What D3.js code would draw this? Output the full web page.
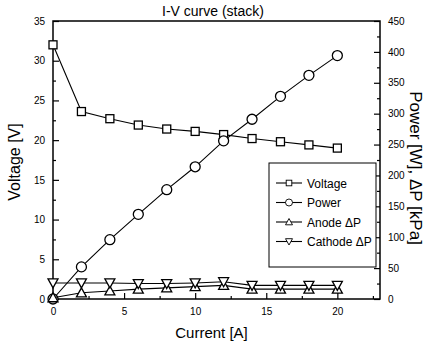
<!DOCTYPE html>
<html>
<head>
<meta charset="utf-8">
<script src="https://cdn.jsdelivr.net/npm/d3@7"></script>
<style>
  body { margin: 0; background: #fff; }
  svg { font-family: "Liberation Sans", Arial, sans-serif; }
</style>
</head>
<body>
<svg></svg>
<script>
var width = 426,
    height = 350;

// data
var current = [0, 2, 4, 6, 8, 10, 12, 14, 16, 18, 20];
var voltage = [32, 23.6, 22.7, 21.9, 21.4, 21.1, 20.7, 20.2, 19.8, 19.4, 19.0];
var power = [0, 52, 96, 137, 177, 214, 256, 291, 328, 362, 394];
var anodeDP = [2, 10, 13, 16, 18, 20, 22, 16, 16, 16, 16];
var cathodeDP = [26, 26, 26, 25, 25, 26, 28, 22, 22, 22, 22];
var seriesNames = ["Voltage", "Power", "Anode \u0394P", "Cathode \u0394P"];

var margin = {left: 53, right: 46, top: 21, bottom: 51};

var svg = d3.select("svg")
    .attr("width", width)
    .attr("height", height);

var x = d3.scaleLinear().domain([0, 23]).range([margin.left, width - margin.right]);
var yL = d3.scaleLinear().domain([0, 35]).range([height - margin.bottom, margin.top]);
var yR = d3.scaleLinear().domain([0, 450]).range([height - margin.bottom, margin.top]);

var g = svg.append("g");

// frame
g.append("rect")
    .attr("x", margin.left)
    .attr("y", margin.top)
    .attr("width", width - margin.left - margin.right)
    .attr("height", height - margin.top - margin.bottom)
    .attr("fill", "none")
    .attr("stroke", "#000")
    .attr("stroke-width", 1.5);

// axes, ticks pointing inwards
function styleAxis(sel) {
    sel.select(".domain").remove();
    sel.selectAll("line").attr("stroke", "#000").attr("stroke-width", 1.2);
    sel.selectAll("text").attr("font-size", 10).attr("fill", "#000");
}

g.append("g")
    .attr("transform", "translate(0," + (height - margin.bottom) + ")")
    .call(d3.axisBottom(x).tickValues([0, 5, 10, 15, 20]).tickSize(-6).tickPadding(9).tickFormat(d3.format("d")))
    .call(styleAxis);
g.append("g")
    .attr("transform", "translate(0," + (height - margin.bottom) + ")")
    .call(d3.axisBottom(x).tickValues([2.5, 7.5, 12.5, 17.5, 22.5]).tickSize(-3).tickFormat(""))
    .call(styleAxis);

g.append("g")
    .attr("transform", "translate(" + margin.left + ",0)")
    .call(d3.axisLeft(yL).tickValues(d3.range(0, 36, 5)).tickSize(-6).tickPadding(8))
    .call(styleAxis);
g.append("g")
    .attr("transform", "translate(" + margin.left + ",0)")
    .call(d3.axisLeft(yL).tickValues(d3.range(2.5, 35, 5)).tickSize(-3).tickFormat(""))
    .call(styleAxis);

g.append("g")
    .attr("transform", "translate(" + (width - margin.right) + ",0)")
    .call(d3.axisRight(yR).tickValues(d3.range(0, 451, 50)).tickSize(-6).tickPadding(8))
    .call(styleAxis);
g.append("g")
    .attr("transform", "translate(" + (width - margin.right) + ",0)")
    .call(d3.axisRight(yR).tickValues(d3.range(25, 450, 50)).tickSize(-3).tickFormat(""))
    .call(styleAxis);

// titles
svg.append("text")
    .attr("x", 213).attr("y", 16)
    .attr("text-anchor", "middle")
    .attr("font-size", 14)
    .text("I-V curve (stack)");

svg.append("text")
    .attr("x", (margin.left + width - margin.right) / 2 - 5)
    .attr("y", 338)
    .attr("text-anchor", "middle")
    .attr("font-size", 15)
    .text("Current [A]");

svg.append("text")
    .attr("transform", "translate(20,162) rotate(-90)")
    .attr("text-anchor", "middle")
    .attr("font-size", 16)
    .text("Voltage [V]");

svg.append("text")
    .attr("transform", "translate(410,168) rotate(90)")
    .attr("text-anchor", "middle")
    .attr("font-size", 17)
    .text("Power [W], \u0394P [kPa]");

// markers
function marker(sel, kind) {
    if (kind === "square") {
        sel.append("rect").attr("x", -4).attr("y", -4).attr("width", 8).attr("height", 8);
    } else if (kind === "circle") {
        sel.append("circle").attr("r", 5);
    } else if (kind === "up") {
        sel.append("path").attr("d", "M0,-5L5,4L-5,4Z");
    } else {
        sel.append("path").attr("d", "M0,5L5,-4L-5,-4Z");
    }
    sel.selectAll("*").attr("fill", "#fff").attr("stroke", "#000").attr("stroke-width", 1.3);
}

var series = [
    {name: seriesNames[0], values: voltage, y: yL, kind: "square"},
    {name: seriesNames[1], values: power, y: yR, kind: "circle"},
    {name: seriesNames[2], values: anodeDP, y: yR, kind: "up"},
    {name: seriesNames[3], values: cathodeDP, y: yR, kind: "down"}
];

series.forEach(function (s) {
    var pts = current.map((c, i) => [c, s.values[i]]);
    g.append("path")
        .datum(pts)
        .attr("fill", "none")
        .attr("stroke", "#000")
        .attr("stroke-width", 1.1)
        .attr("d", d3.line().x(d => x(d[0])).y(d => s.y(d[1])));
    g.selectAll(null)
        .data(pts)
        .enter().append("g")
        .attr("transform", d => "translate(" + x(d[0]) + "," + s.y(d[1]) + ")")
        .each(function () { marker(d3.select(this), s.kind); });
});

// legend
var lg = svg.append("g");
lg.append("rect")
    .attr("x", 269).attr("y", 163)
    .attr("width", 107).attr("height", 104)
    .attr("fill", "#fff")
    .attr("stroke", "#000")
    .attr("stroke-width", 1);

series.forEach(function (s, i) {
    var yy = 183 + i * 19.5;
    lg.append("line")
        .attr("x1", 276).attr("x2", 302)
        .attr("y1", yy).attr("y2", yy)
        .attr("stroke", "#000").attr("stroke-width", 1.1);
    var m = lg.append("g")
        .attr("transform", "translate(289," + yy + ") scale(0.7)");
    marker(m, s.kind);
    lg.append("text")
        .attr("x", 307).attr("y", yy + 4.5)
        .attr("font-size", 12)
        .text(s.name);
});
</script>
</body>
</html>
